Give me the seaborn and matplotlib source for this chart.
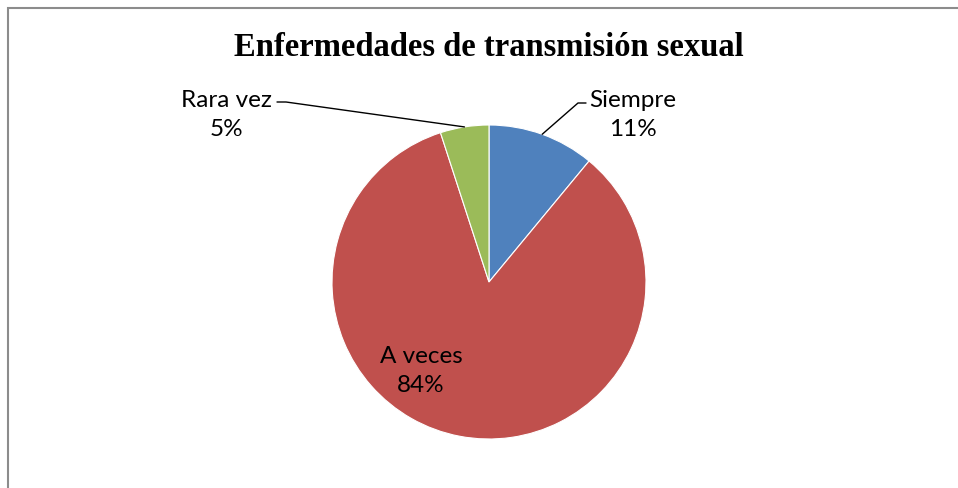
import numpy as np
import matplotlib
matplotlib.use("Agg")
import matplotlib.pyplot as plt
from matplotlib.patches import Rectangle
import seaborn as sns

# datos del grafico
categorias = ['Siempre', 'A veces', 'Rara vez']
porcentajes = [11, 84, 5]
colores = ['#4F81BD', '#C0504D', '#9BBB59']
titulo = 'Enfermedades de transmisión sexual'

sns.set_theme(style="white")
plt.rcParams['font.family'] = ['Lato', 'DejaVu Sans']
plt.rcParams['text.color'] = 'black'

W, H = 958, 488
fig = plt.figure(figsize=(W / 100, H / 100), dpi=100)
fig.patch.set_facecolor('white')

# marco gris del area del grafico
fig.patches.append(Rectangle((8 / W, -0.01), 1.02, (H - 8) / H + 0.01,
                             transform=fig.transFigure, fill=False,
                             edgecolor='#8c8c8c', linewidth=1.5))

cx, cy, r = 489, 282, 157
ax = fig.add_axes([(cx - r) / W, (H - cy - r) / H, 2 * r / W, 2 * r / H])
wedges, _ = ax.pie(porcentajes, colors=sns.color_palette(colores),
                   startangle=90, counterclock=False, radius=1,
                   wedgeprops=dict(edgecolor='white', linewidth=0.8))
ax.set_xlim(-1, 1)
ax.set_ylim(-1, 1)
ax.set_aspect('equal')
ax.axis('off')


def px(x, y):
    return (x - cx) / r, (cy - y) / r


def mid(w):
    a = np.deg2rad((w.theta1 + w.theta2) / 2)
    return np.cos(a), np.sin(a)


fs = 17.5
ls = 1.5
# Siempre
x0, y0 = mid(wedges[0])
ex, ey = px(578, 103)
hx, hy = px(586, 103)
ax.plot([x0, ex, hx], [y0, ey, hy], color='black', lw=1, clip_on=False)
tx, ty = px(633, 115)
ax.text(tx, ty, f'{categorias[0]}\n{porcentajes[0]}%', ha='center', va='center',
        fontsize=fs, linespacing=ls, color='black')

# Rara vez
x2, y2 = mid(wedges[2])
ex, ey = px(286, 102)
hx, hy = px(277, 102)
ax.plot([x2, ex, hx], [y2, ey, hy], color='black', lw=1, clip_on=False)
tx, ty = px(226, 115)
ax.text(tx, ty, f'{categorias[2]}\n{porcentajes[2]}%', ha='center', va='center',
        fontsize=fs, linespacing=ls, color='black')

# A veces (dentro)
tx, ty = px(421, 371)
ax.text(tx, ty, f'{categorias[1]}\n{porcentajes[1]}%', ha='center', va='center',
        fontsize=fs, linespacing=ls, color='black')

fig.text(489 / W, 1 - 48 / H, titulo, ha='center', va='center',
         family='Liberation Serif', fontweight='bold', fontsize=23.5,
         color='black')

fig.savefig('out.png', dpi=100)
